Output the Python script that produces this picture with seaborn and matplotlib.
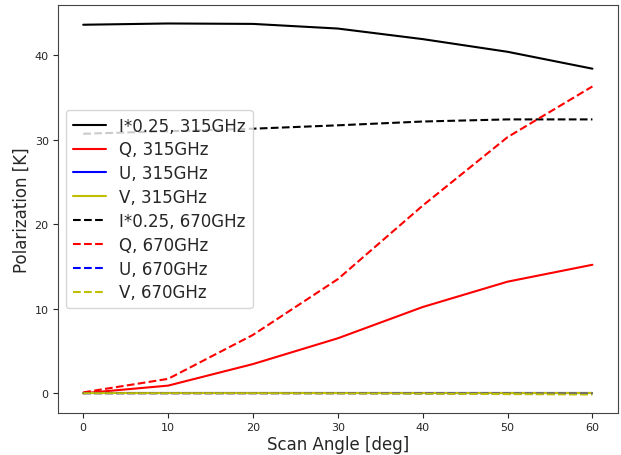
import numpy as np
import pandas as pd
import matplotlib
matplotlib.use("Agg")
import matplotlib.pyplot as plt
import seaborn as sns

# Data
scan_angle = [0, 10, 20, 30, 40, 50, 60]

i_315 = [43.6, 43.75, 43.7, 43.15, 41.9, 40.4, 38.4]
q_315 = [0.0, 0.9, 3.45, 6.5, 10.2, 13.2, 15.2]
u_315 = [0.0, 0.0, 0.0, 0.0, 0.0, 0.0, 0.0]
v_315 = [0.0, 0.0, 0.0, 0.0, 0.0, 0.0, 0.0]

i_670 = [30.7, 31.0, 31.3, 31.7, 32.15, 32.4, 32.4]
q_670 = [0.1, 1.7, 6.9, 13.5, 22.2, 30.3, 36.3]
u_670 = [0.0, 0.0, 0.0, 0.0, -0.02, -0.05, -0.05]
v_670 = [0.0, 0.0, 0.0, -0.02, -0.05, -0.1, -0.15]

series = [
    ("I*0.25, 315GHz", i_315, "black", "-"),
    ("Q, 315GHz", q_315, "red", "-"),
    ("U, 315GHz", u_315, "blue", "-"),
    ("V, 315GHz", v_315, "y", "-"),
    ("I*0.25, 670GHz", i_670, "black", "--"),
    ("Q, 670GHz", q_670, "red", "--"),
    ("U, 670GHz", u_670, "blue", "--"),
    ("V, 670GHz", v_670, "y", "--"),
]

sns.set_style("ticks")
plt.rcParams["font.family"] = ["DejaVu Sans"]

fig, ax = plt.subplots(figsize=(6.21, 4.56), dpi=100)
fig.subplots_adjust(left=0.093, right=0.995, top=0.987, bottom=0.092)

for label, values, color, ls in series:
    sns.lineplot(x=scan_angle, y=values, ax=ax, color=color, linestyle=ls,
                 linewidth=1.5, label=label)

ax.set_xlabel("Scan Angle [deg]", fontsize=12, labelpad=2)
ax.set_ylabel("Polarization [K]", fontsize=12, labelpad=3)
ax.tick_params(labelsize=8, length=3.5, pad=3)
ax.set_xticks([0, 10, 20, 30, 40, 50, 60])
ax.set_yticks([0, 10, 20, 30, 40])
ax.legend(loc="center left", fontsize=12, framealpha=0.8, labelspacing=0.35)
for s in ax.spines.values():
    s.set_color("#444444")

fig.savefig("out.png", dpi=100)
